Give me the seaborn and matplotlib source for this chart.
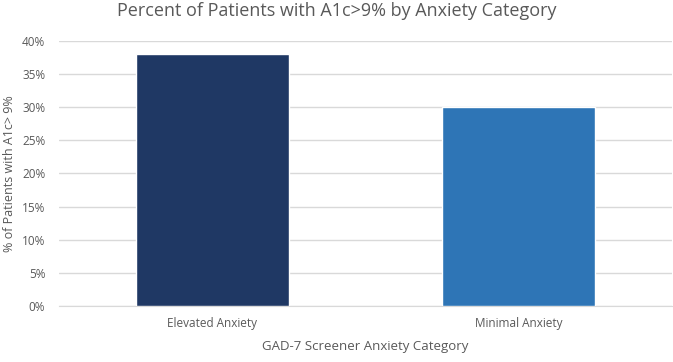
import matplotlib
matplotlib.use("Agg")
import pandas as pd
import matplotlib.pyplot as plt
import seaborn as sns
from matplotlib.ticker import PercentFormatter

categories = ["Elevated Anxiety", "Minimal Anxiety"]
percent_a1c = [38, 30]
bar_colors = ["#1F3864", "#2E75B6"]

df = pd.DataFrame({"category": categories, "percent": percent_a1c})

sns.set_style("white")
plt.rcParams["font.family"] = ["Open Sans", "DejaVu Sans"]

fig = plt.figure(figsize=(6.73, 3.62), dpi=100)
ax = fig.add_axes([0.088, 0.155, 0.91, 0.732])

sns.barplot(data=df, x="category", y="percent", hue="category",
            palette=bar_colors, saturation=1, width=0.5, legend=False,
            ax=ax, zorder=3)

ax.set_ylim(0, 40)
ax.set_yticks(range(0, 41, 5))
ax.yaxis.set_major_formatter(PercentFormatter(decimals=0))
ax.grid(axis="y", color="#D9D9D9", linewidth=1, zorder=0)
ax.set_xlim(-0.5, 1.5)
for s in ["top", "right", "left"]:
    ax.spines[s].set_visible(False)
ax.spines["bottom"].set_color("#D9D9D9")
ax.tick_params(axis="both", length=0, labelsize=8.5, colors="#595959")
ax.tick_params(axis="x", pad=8)
ax.tick_params(axis="y", pad=10)

ax.set_xlabel("GAD-7 Screener Anxiety Category", fontsize=9.5, color="#595959", labelpad=7)
ax.set_ylabel("% of Patients with A1c> 9%", fontsize=9, color="#595959", labelpad=4)
fig.suptitle("Percent of Patients with A1c>9% by Anxiety Category",
             fontsize=13, color="#595959", y=0.995)

fig.savefig("out.png", dpi=100)
